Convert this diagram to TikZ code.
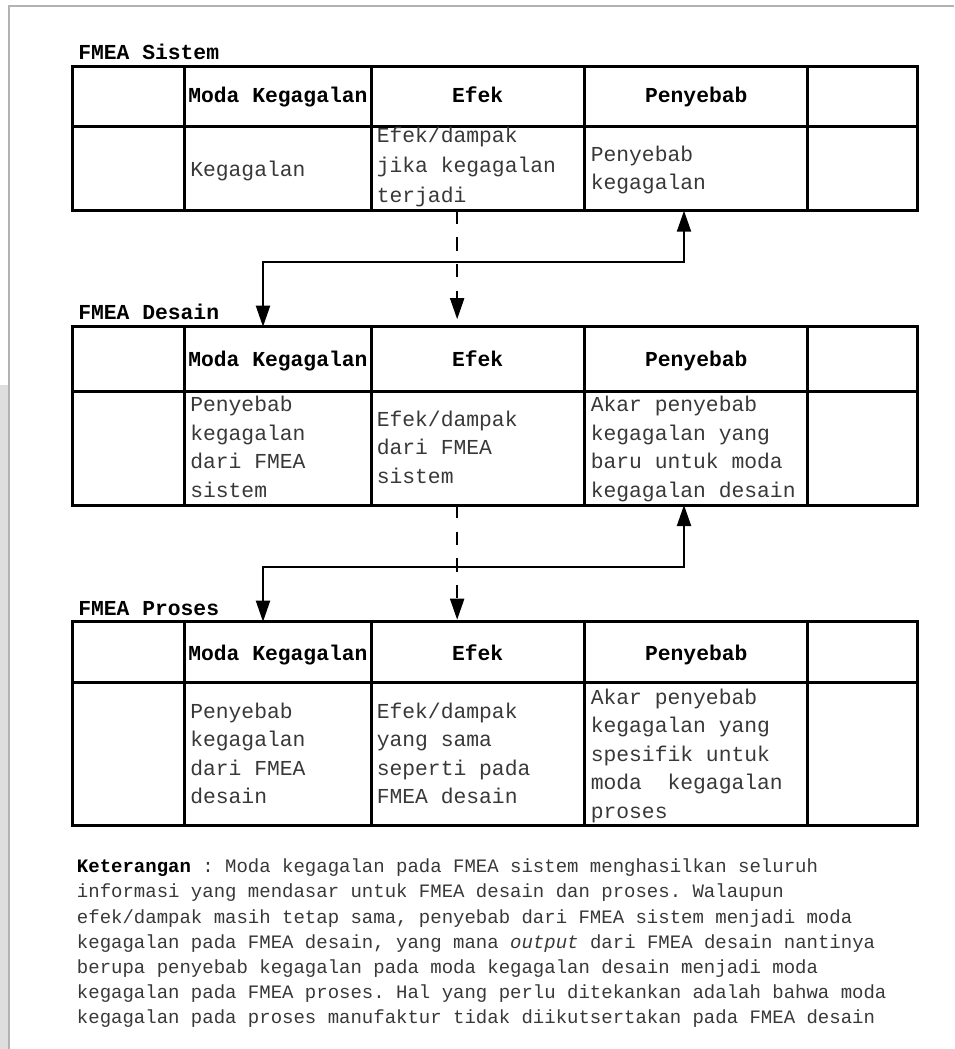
\documentclass[tikz,border=0pt]{standalone}
\usepackage{fontspec}
\setmonofont{Liberation Mono}
\usetikzlibrary{arrows.meta,fit,calc}

\tikzset{
  cellbox/.style={draw=black, line width=2.25pt, inner sep=0pt, outer sep=0pt, rectangle},
  txt/.style={inner sep=0pt, font=\ttfamily\fontsize{16}{20}\selectfont, text=black!78},
  head/.style={inner sep=0pt, font=\ttfamily\bfseries\fontsize{16}{20}\selectfont, text=black},
  note/.style={inner sep=0pt, anchor=base west, font=\ttfamily\fontsize{14.25}{18}\selectfont, text=black!78},
  link/.style={line width=1.5pt, draw=black},
  tip/.style={-{Triangle[width=10.5pt,length=15.75pt]}},
  bitip/.style={{Triangle[width=10.5pt,length=15.75pt]}-{Triangle[width=10.5pt,length=15.75pt]}},
  dashlink/.style={link, dash pattern=on 10pt off 10pt},
  frameline/.style={draw=black!30, line width=1.1pt}
}

% one FMEA table: prefix, top, header bottom, bottom
\newcommand\fmeatable[4]{%
  \foreach \c/\l/\r in {no/72/184, moda/184/371, efk/371/584.3, pyb/584.3/807.7, x/807.7/917.7}{%
    \node[cellbox, fit={(\l,#2) (\r,#3)}] (#1-\c) {};
    \node[cellbox, fit={(\l,#3) (\r,#4)}] (#1-\c-b) {};
  }%
}
% left aligned lines in a cell: name, x, first baseline, line step, lines
\newcommand\celllines[5]{%
  \foreach \t [count=\i from 0] in {#5}{%
    \node[txt, anchor=base west] (#1-\i) at (#2, #3+\i*#4) {\t};
  }%
}
% header row texts: prefix, baseline
\newcommand\headrow[2]{%
  \node[head, anchor=base west] (#1-hm) at (188,#2) {Moda Kegagalan};
  \node[head, anchor=base] (#1-he) at (477.6,#2) {Efek};
  \node[head, anchor=base] (#1-hp) at (696.3,#2) {Penyebab};
}

\begin{document}
\begin{tikzpicture}[x=0.75pt, y=-0.75pt]
\useasboundingbox (0,0) rectangle (954,1049);

% page frame and faint mark on the left margin
\fill[black!13] (0,385) -- (8,385) -- (8,1049) -- (0,1049) -- cycle;
\draw[frameline] (9,1049) -- (9,6) -- (954,6);

% FMEA Sistem
\node[head, anchor=base west] (t-sis) at (78,59.3) {FMEA Sistem};
\fmeatable{s}{66.7}{126}{210.7}
\headrow{s}{103}
\celllines{s-m}{190}{176}{28.5}{Kegagalan}
\celllines{s-e}{376.5}{142.5}{30}{Efek/dampak, jika kegagalan, terjadi}
\celllines{s-p}{590.5}{161.3}{28}{Penyebab, kegagalan}

% FMEA Desain
\node[head, anchor=base west] (t-des) at (78,319.3) {FMEA Desain};
\fmeatable{d}{326.7}{391.7}{505}
\headrow{d}{366.7}
\celllines{d-m}{190}{411.7}{28.5}{Penyebab, kegagalan, dari FMEA, sistem}
\celllines{d-e}{376.5}{426}{28.5}{Efek/dampak, dari FMEA, sistem}
\celllines{d-p}{590.5}{411.7}{28.5}{Akar penyebab, kegagalan yang, baru untuk moda, kegagalan desain}

% FMEA Proses
\node[head, anchor=base west] (t-pro) at (78,615) {FMEA Proses};
\fmeatable{p}{621.7}{682.7}{825.7}
\headrow{p}{660.7}
\celllines{p-m}{190}{718.3}{28.5}{Penyebab, kegagalan, dari FMEA, desain}
\celllines{p-e}{376.5}{718.3}{28.5}{Efek/dampak, yang sama, seperti pada, FMEA desain}
\celllines{p-p}{590.5}{704}{28.6}{Akar penyebab, kegagalan yang, spesifik untuk, moda\ \ kegagalan, proses}

% links Sistem -> Desain
\draw[link, bitip] ($(s-pyb-b.south)+(-12,0)$) -- ++(0,51.6) -| ($(d-moda.north)+(-14.5,0)$);
\draw[dashlink, tip] ($(s-efk-b.south)+(-20.5,0)$) -- ($(d-efk.north)+(-20.5,-7.5)$);

% links Desain -> Proses
\draw[link, bitip] ($(d-pyb-b.south)+(-12,0)$) -- ++(0,62.3) -| ($(p-moda.north)+(-14.5,0)$);
\draw[dashlink, tip] ($(d-efk-b.south)+(-20.5,0)$) -- ($(p-efk.north)+(-20.5,-2)$);

% explanatory note
\foreach \t [count=\i from 0] in {
  {\textcolor{black}{\textbf{Keterangan}} : Moda kegagalan pada FMEA sistem menghasilkan seluruh},
  {informasi yang mendasar untuk FMEA desain dan proses. Walaupun},
  {efek/dampak masih tetap sama, penyebab dari FMEA sistem menjadi moda},
  {kegagalan pada FMEA desain, yang mana \textit{output} dari FMEA desain nantinya},
  {berupa penyebab kegagalan pada moda kegagalan desain menjadi moda},
  {kegagalan pada FMEA proses. Hal yang perlu ditekankan adalah bahwa moda},
  {kegagalan pada proses manufaktur tidak diikutsertakan pada FMEA desain}}{%
  \node[note] (ket-\i) at (76.7, 872.7+\i*25.2) {\t};
}
\end{tikzpicture}
\end{document}
